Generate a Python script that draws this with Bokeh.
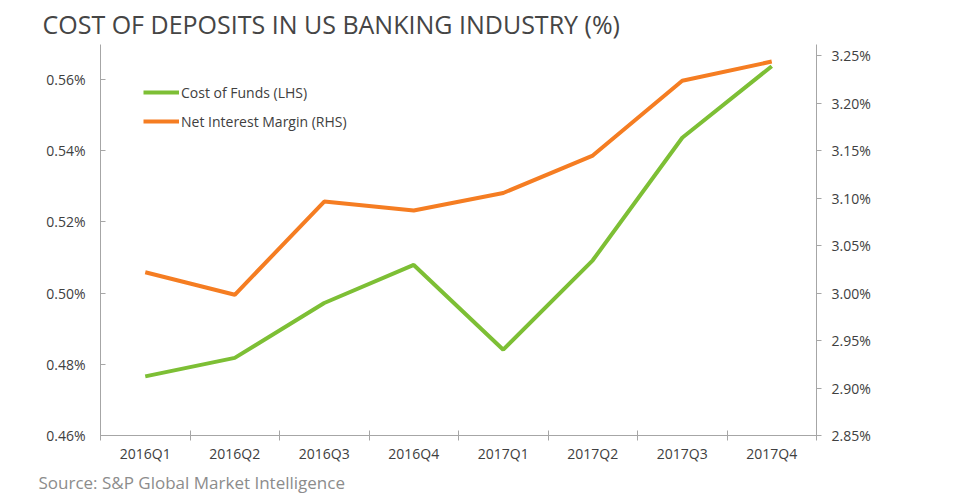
from bokeh.plotting import figure
from bokeh.models import (LinearAxis, Range1d, FixedTicker, PrintfTickFormatter,
                          Legend, LegendItem, Title, CustomJSTickFormatter)
from bokeh.embed import file_html
from bokeh.resources import INLINE

quarters = ["2016Q1", "2016Q2", "2016Q3", "2016Q4",
            "2017Q1", "2017Q2", "2017Q3", "2017Q4"]
cost_of_funds = [0.4766, 0.4818, 0.4972, 0.5079, 0.4841, 0.5092, 0.5436, 0.5637]
net_interest_margin = [3.0219, 2.9981, 3.0963, 3.0868, 3.1053, 3.1447, 3.2234, 3.2437]
lhs_ticks = [0.46, 0.48, 0.50, 0.52, 0.54, 0.56]
rhs_ticks = [2.85, 2.90, 2.95, 3.00, 3.05, 3.10, 3.15, 3.20, 3.25]

FONT = "Open Sans"
GREEN = "#7dbf35"
ORANGE = "#f57d22"
AXIS = "#a6a6a6"
TXT = "#404040"

n = len(quarters)
xpos = [i + 0.5 for i in range(n)]
bounds = list(range(n + 1))

p = figure(frame_width=716, frame_height=391, output_backend="svg",
           toolbar_location=None,
           x_range=Range1d(0, n), y_range=Range1d(0.46, 0.5698),
           min_border_left=100, min_border_right=134, min_border_top=44,
           min_border_bottom=20)
p.extra_y_ranges = {"rhs": Range1d(2.85, 3.2616)}
p.outline_line_color = None
p.xgrid.grid_line_color = None
p.ygrid.grid_line_color = None

# x axis
xa = p.xaxis[0]
xa.ticker = FixedTicker(ticks=xpos, minor_ticks=bounds)
xa.formatter = CustomJSTickFormatter(args=dict(labels=quarters),
                                     code="return labels[Math.floor(tick)] || '';")
xa.axis_line_color = AXIS
xa.major_tick_line_color = None
xa.major_tick_out = 0
xa.major_tick_in = 0
xa.minor_tick_line_color = AXIS
xa.minor_tick_in = 5
xa.minor_tick_out = 5
xa.major_label_standoff = 3
xa.major_label_text_font = FONT
xa.major_label_text_font_size = "14px"
xa.major_label_text_color = TXT

# left axis
ya = p.yaxis[0]
ya.ticker = FixedTicker(ticks=lhs_ticks)
ya.formatter = PrintfTickFormatter(format="%.2f%%")
ya.axis_line_color = AXIS
ya.major_tick_line_color = AXIS
ya.major_tick_in = 5
ya.major_tick_out = 0
ya.minor_tick_line_color = None
ya.major_label_standoff = 15
ya.major_label_text_font = FONT
ya.major_label_text_font_size = "14px"
ya.major_label_text_color = TXT

# right axis
ra = LinearAxis(y_range_name="rhs", ticker=FixedTicker(ticks=rhs_ticks),
                formatter=PrintfTickFormatter(format="%.2f%%"))
ra.axis_line_color = AXIS
ra.major_tick_line_color = AXIS
ra.major_tick_in = 0
ra.major_tick_out = 5
ra.minor_tick_line_color = None
ra.major_label_standoff = 10
ra.major_label_text_font = FONT
ra.major_label_text_font_size = "14px"
ra.major_label_text_color = TXT
p.add_layout(ra, "right")

g = p.line(xpos, cost_of_funds, line_color=GREEN, line_width=4)
o = p.line(xpos, net_interest_margin, line_color=ORANGE, line_width=4,
           y_range_name="rhs")

legend = Legend(items=[LegendItem(label="Cost of Funds (LHS)", renderers=[g]),
                       LegendItem(label="Net Interest Margin (RHS)", renderers=[o])],
                location=(43, 304), border_line_color=None,
                background_fill_alpha=0, glyph_width=36, glyph_height=20,
                label_height=20, spacing=9, padding=0, margin=0,
                label_standoff=2, label_text_font=FONT,
                label_text_font_size="14px", label_text_color=TXT)
p.add_layout(legend)

p.title = Title(text="COST OF DEPOSITS IN US BANKING INDUSTRY (%)", align="left",
                offset=-58, standoff=8, text_font=FONT, text_font_size="25px",
                text_font_style="normal", text_color="#454545")
p.add_layout(Title(text="Source:  S&P Global Market Intelligence", align="left",
                   offset=-62, standoff=6, text_font=FONT, text_font_size="17px",
                   text_font_style="normal", text_color="#8c8c8c"), "below")

open("out.html", "w").write(file_html(p, INLINE))
